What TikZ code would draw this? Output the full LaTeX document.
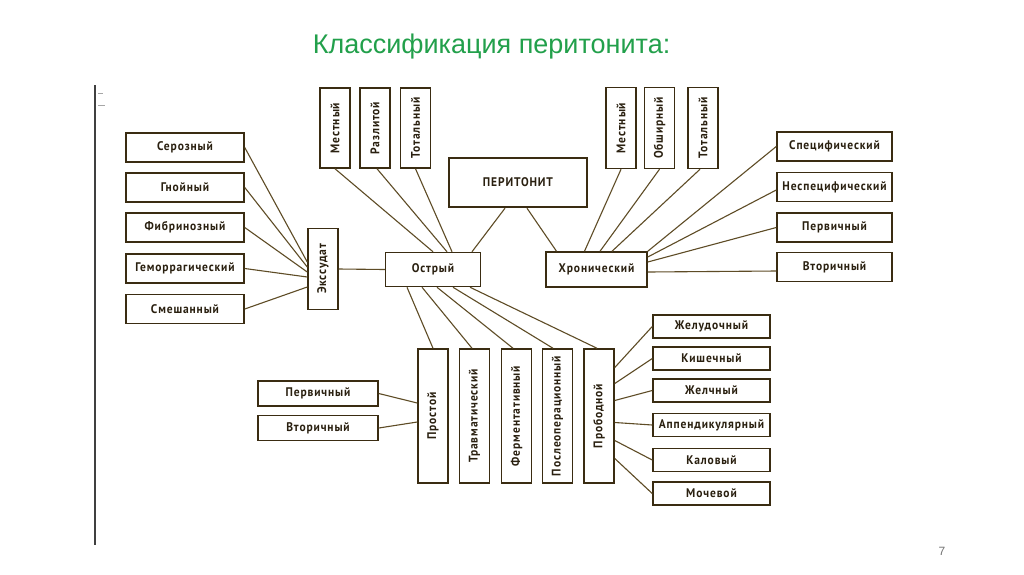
\documentclass[tikz,border=0pt]{standalone}
\usepackage{fontspec}
\setmainfont{Liberation Sans}
\newfontfamily\boxfont[FakeStretch=0.92,LetterSpace=7]{PT Sans}
\definecolor{ttl}{HTML}{22A04B}
\definecolor{bord}{HTML}{3A2C12}
\definecolor{conn}{HTML}{5E4C26}
\definecolor{txt}{HTML}{2A2010}
\tikzset{
  bx/.style={draw=bord, line width=1.5pt, inner sep=0pt, fill=white, text=txt,
             font=\boxfont\bfseries\fontsize{12.5}{15}\selectfont},
  vb/.style={bx, minimum width=30pt},
  cn/.style={draw=conn, line width=1.1pt},
}
\newcommand{\vt}[1]{\rotatebox{90}{#1}}
\begin{document}
\begin{tikzpicture}[x=1pt,y=-1pt]
\useasboundingbox (0,0) rectangle (1024,574);
\fill[white] (0,0) rectangle (1024,574);
% title
\node[text=ttl, font=\fontsize{27}{30}\selectfont] (title) at (491.5,47) {Классификация перитонита:};
% scan edge
\draw[line width=1.6pt, draw=black!75] (95,85) coordinate (e1) -- (95,545) coordinate (e2);
\draw[line width=0.8pt, draw=black!35] (98,93) coordinate (t1) -- (103,93) coordinate (t2);
\draw[line width=0.8pt, draw=black!35] (98,105) coordinate (t3) -- (105,105) coordinate (t4);
% page number
\node[text=black!55, font=\fontsize{12}{14}\selectfont] (pg) at (942,551) {7};

% central
\node[bx, line width=2.4pt, minimum width=138pt, minimum height=49pt,
      font=\boxfont\bfseries\fontsize{12.5}{14}\selectfont] (per) at (518,182.5) {ПЕРИТОНИТ};
\node[bx, minimum width=95pt, minimum height=34pt] (ostr) at (433,269.5) {Острый};
\node[bx, minimum width=101pt, minimum height=35pt] (chr) at (596.5,269.5) {Хронический};

% left column
\node[bx, minimum width=118pt, minimum height=29pt] (ser) at (185,147.5) {Серозный};
\node[bx, minimum width=118pt, minimum height=29pt] (gno) at (185,187.5) {Гнойный};
\node[bx, minimum width=118pt, minimum height=29pt] (fib) at (185,227.5) {Фибринозный};
\node[bx, minimum width=118pt, minimum height=29pt] (gem) at (185,268.5) {Геморрагический};
\node[bx, minimum width=118pt, minimum height=29pt] (sme) at (185,309) {Смешанный};
\node[vb, minimum height=81pt] (exs) at (323,269) {\vt{Экссудат}};

% top left verticals
\node[vb, minimum height=80pt] (tl1) at (335,128) {\vt{Местный}};
\node[vb, minimum height=80pt] (tl2) at (375,128) {\vt{Разлитой}};
\node[vb, minimum height=80pt] (tl3) at (415.5,128) {\vt{Тотальный}};

% top right verticals
\node[vb, minimum height=81pt] (tr1) at (621,128) {\vt{Местный}};
\node[vb, minimum height=81pt] (tr2) at (659.5,128) {\vt{Обширный}};
\node[vb, minimum height=81pt] (tr3) at (703,128) {\vt{Тотальный}};

% right column
\node[bx, minimum width=115pt, minimum height=29pt] (spe) at (834.5,146.5) {Специфический};
\node[bx, minimum width=115pt, minimum height=29pt] (nes) at (834.5,187) {Неспецифический};
\node[bx, minimum width=115pt, minimum height=29pt] (pe2) at (834.5,227.5) {Первичный};
\node[bx, minimum width=115pt, minimum height=29pt] (vt2) at (834.5,267) {Вторичный};

% bottom verticals
\node[vb, minimum height=134pt] (pro) at (433,416) {\vt{Простой}};
\node[vb, minimum height=134pt] (tra) at (474.5,416) {\vt{Травматический}};
\node[vb, minimum height=134pt] (fer) at (516.5,416) {\vt{Ферментативный}};
\node[vb, minimum height=134pt] (pos) at (557.5,416) {\vt{Послеоперационный}};
\node[vb, minimum height=134pt] (prb) at (599,416) {\vt{Прободной}};

% bottom left
\node[bx, minimum width=120pt, minimum height=25pt] (pe3) at (318,393.5) {Первичный};
\node[bx, minimum width=120pt, minimum height=25pt] (vt3) at (318,428) {Вторичный};

% bottom right
\node[bx, minimum width=117pt, minimum height=23pt] (zhe) at (711.5,326.5) {Желудочный};
\node[bx, minimum width=117pt, minimum height=23pt] (kis) at (711.5,358.5) {Кишечный};
\node[bx, minimum width=117pt, minimum height=23pt] (zhl) at (711.5,390.5) {Желчный};
\node[bx, minimum width=117pt, minimum height=23pt] (app) at (711.5,425) {Аппендикулярный};
\node[bx, minimum width=117pt, minimum height=23pt] (kal) at (711.5,460) {Каловый};
\node[bx, minimum width=117pt, minimum height=23pt] (moc) at (711.5,493.5) {Мочевой};

% connectors: left column -> exs
\draw[cn] (ser.east) -- ([yshift=7pt]exs.west);
\draw[cn] (gno.east) -- ([yshift=2pt]exs.west);
\draw[cn] (fib.east) -- ([yshift=-3pt]exs.west);
\draw[cn] (gem.east) -- ([yshift=-8pt]exs.west);
\draw[cn] (sme.east) -- ([yshift=-18pt]exs.west);
\draw[cn] (exs.east) -- (ostr.west);
% top left -> ostr
\draw[cn] (tl1.south) -- (ostr.north);
\draw[cn] ([xshift=2pt]tl2.south) -- ([xshift=14pt]ostr.north);
\draw[cn] (tl3.south) -- ([xshift=19pt]ostr.north);
\draw[cn] ([xshift=-13pt]per.south) -- ([xshift=39pt]ostr.north);
\draw[cn] ([xshift=9pt]per.south) -- ([xshift=-40pt]chr.north);
% top right -> chr
\draw[cn] (tr1.south) -- ([xshift=-12pt]chr.north);
\draw[cn] (tr2.south) -- ([xshift=3.5pt]chr.north);
\draw[cn] ([xshift=-3pt]tr3.south) -- ([xshift=15.5pt]chr.north);
% chr -> right column
\draw[cn] (chr.north east) -- (spe.west);
\draw[cn] ([yshift=12.5pt]chr.east) -- ([yshift=-3pt]nes.west);
\draw[cn] ([yshift=7.5pt]chr.east) -- (pe2.west);
\draw[cn] ([yshift=-2.5pt]chr.east) -- ([yshift=-4pt]vt2.west);
% ostr -> bottom verticals
\draw[cn] ([xshift=-26pt]ostr.south) -- (pro.north);
\draw[cn] ([xshift=-11pt]ostr.south) -- ([xshift=-2.5pt]tra.north);
\draw[cn] ([xshift=4pt]ostr.south) -- ([xshift=-3.5pt]fer.north);
\draw[cn] ([xshift=20pt]ostr.south) -- ([xshift=-4.5pt]pos.north);
\draw[cn] ([xshift=37pt]ostr.south) -- ([xshift=-2pt]prb.north);
% bottom left -> pro
\draw[cn] (pe3.east) -- ([yshift=13pt]pro.west);
\draw[cn] (vt3.east) -- ([yshift=-6pt]pro.west);
% prb -> bottom right
\draw[cn] ([yshift=48.5pt]prb.east) -- (zhe.west);
\draw[cn] ([yshift=32.5pt]prb.east) -- (kis.west);
\draw[cn] ([yshift=15.5pt]prb.east) -- (zhl.west);
\draw[cn] ([yshift=-6.5pt]prb.east) -- (app.west);
\draw[cn] ([yshift=-24.5pt]prb.east) -- (kal.west);
\draw[cn] ([yshift=-42.5pt]prb.east) -- (moc.west);
\end{tikzpicture}
\end{document}
